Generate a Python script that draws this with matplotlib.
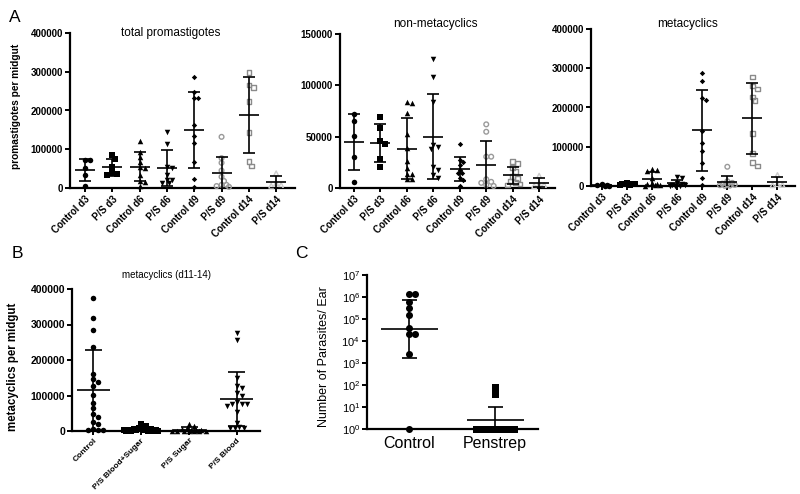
import numpy as np
import matplotlib
matplotlib.use('Agg')
import matplotlib.pyplot as plt
from matplotlib.ticker import NullLocator

plt.rcParams['font.family'] = ['Liberation Sans', 'DejaVu Sans']

# ---------------- data ----------------
days = ['Control d3', 'P/S d3', 'Control d6', 'P/S d6',
        'Control d9', 'P/S d9', 'Control d14', 'P/S d14']

total_vals = [
    [72000, 72000, 51000, 33000, 5000],
    [85000, 75000, 55000, 38000, 35000, 34000],
    [121000, 94000, 81000, 68000, 55000, 51000, 33500, 19000, 16000, 5000],
    [145000, 113000, 53000, 51000, 33500, 21000, 21000, 13000, 12000],
    [286000, 247000, 231000, 231000, 162000, 134000, 115000, 68000, 23000, 2000],
    [132000, 77000, 65000, 45000, 29000, 18000, 8000, 8000, 5000, 3000],
    [298000, 266000, 260000, 223000, 143000, 68000, 57000],
    [38000, 12000, 8000, 6000],
]
nonmeta_vals = [
    [71800, 65600, 51000, 29900, 5500],
    [69500, 58000, 46000, 43000, 28000, 20000],
    [84000, 82500, 72700, 53000, 39000, 26000, 19800, 13300, 13300, 8800, 8800],
    [126000, 108600, 84000, 42000, 40000, 38000, 20000, 18000, 12700, 10000],
    [42500, 27300, 25600, 22400, 17500, 14900, 14300, 9400, 7800, 2000],
    [62000, 54800, 30500, 30500, 8500, 6000, 5000, 3000, 2000],
    [25600, 24000, 20000, 15900, 11000, 9400, 6800, 5200, 4000, 3000],
    [12000, 4000, 3000, 2000],
]
meta_vals = [
    [4000, 3000, 2000, 1000, 500],
    [8000, 6000, 5000, 4000, 3000, 2000],
    [44000, 42000, 38000, 20000, 8000, 5000, 4000, 3000, 2000, 1000],
    [22000, 20000, 8000, 5000, 3000, 2000, 1000, 1000, 1000],
    [288000, 268000, 223000, 219000, 140000, 110000, 90000, 57800, 19600, 2500],
    [49000, 12000, 8000, 6000, 4000, 3000, 2000, 1000, 500],
    [278000, 254500, 247000, 227000, 217000, 134000, 83000, 60000, 51000],
    [28000, 5000, 3000, 2000],
]

b_groups = ['Control', 'P/S Blood+Sugar', 'P/S Sugar', 'P/S Blood']
b_vals = [
    [375500, 317000, 284500, 237500, 160600, 145600, 137000, 126800, 101400,
     78000, 64000, 48000, 40300, 24500, 19700, 4800, 4000, 3000, 2000],
    [19000, 13000, 8000, 6000, 5000, 4000, 3000, 3000, 2000, 2000, 1000,
     1000, 500, 500, 300],
    [20000, 15000, 8000, 5000, 3000, 2000, 2000, 1000, 1000, 500, 500, 300,
     200, 100],
    [275000, 256000, 148000, 126800, 120000, 106000, 98600, 82500, 76000,
     76000, 75000, 70400, 54000, 23400, 12000, 7600, 7600, 7600],
]

c_groups = ['Control', 'Penstrep']
c_vals = [
    [1.3e6, 1.3e6, 6.1e5, 3.3e5, 1.6e5, 4.0e4, 2.1e4, 2.1e4, 2.7e3, 1],
    [85, 38, 1, 1, 1, 1, 1, 1, 1],
]

# ---------------- styles ----------------
a_markers = ['o', 's', '^', 'v', 'D', 'o', 's', '^']
a_colors = ['k', 'k', 'k', 'k', 'k', '#9a9a9a', '#8a8a8a', '#cccccc']
a_filled = [True, True, True, True, True, False, False, False]
a_sizes = [5.5, 5.5, 5.5, 5.5, 3.8, 5.5, 5.5, 5.5]

W, H = 800, 494
fig = plt.figure(figsize=(W / 100, H / 100), dpi=100)

t95 = {8: 2.306, 9: 2.262, 10: 2.228}


def add_ax(l, r, ybot, ytop):
    return fig.add_axes([l / W, 1 - ybot / H, (r - l) / W, (ybot - ytop) / H])


def style_ax(ax, ysize=7, yweight='bold'):
    for s in ['top', 'right']:
        ax.spines[s].set_visible(False)
    for s in ['left', 'bottom']:
        ax.spines[s].set_linewidth(1.6)
    ax.tick_params(axis='y', length=3.5, width=1.4, labelsize=ysize, pad=1.5)
    ax.tick_params(axis='x', length=3, width=1.4, pad=1.5)
    for lab in ax.get_yticklabels():
        lab.set_fontweight(yweight)


def swarm(ypx, d, lim):
    # spread points sideways (within +/- lim px), overlap when crowded
    xs = np.zeros(len(ypx))
    placed = []
    step = 0.45 * d
    n = int(lim // step)
    cands = [0.0]
    for k in range(1, n + 1):
        cands += [k * step, -k * step]
    for i in np.argsort(-ypx):
        y = ypx[i]
        best, best_d = 0.0, -1
        for c in cands:
            md = min([np.hypot(c - px, y - py) for px, py in placed] + [1e9])
            if md >= d * 0.8:
                best = c
                break
            if md > best_d:
                best, best_d = c, md
        placed.append((best, y))
        xs[i] = best
    return xs


def draw_groups(ax, vals_list, markers, colors, filled, sizes,
                mean_w, cap_w, lim, log=False):
    pos = ax.get_position()
    x0, x1 = ax.get_xlim()
    y0, y1 = ax.get_ylim()
    px_x = pos.width * W / (x1 - x0)
    if log:
        py = pos.height * H / (np.log10(y1) - np.log10(y0))
    else:
        py = pos.height * H / (y1 - y0)
    for i, vals in enumerate(vals_list):
        v = np.array(vals, float)
        yp = (np.log10(v) if log else v) * py
        offs = swarm(yp, sizes[i], lim) / px_x
        ms = sizes[i] * 0.72
        if filled[i]:
            ax.scatter(i + offs, v, marker=markers[i], s=ms ** 2,
                       color=colors[i], linewidths=0, clip_on=False, zorder=3)
        else:
            ax.scatter(i + offs, v, marker=markers[i], s=(ms * 0.85) ** 2,
                       facecolor='none', edgecolor=colors[i], linewidths=1.0,
                       clip_on=False, zorder=3)
        if log:
            # geometric mean with 95% CI
            lv = np.log10(v)
            m = lv.mean()
            ci = t95[len(v) - 1] * lv.std(ddof=1) / np.sqrt(len(v))
            m, lo, hi = 10 ** m, 10 ** (m - ci), 10 ** (m + ci)
        else:
            # mean +/- SD
            m = v.mean()
            sd = v.std(ddof=1)
            lo, hi = m - sd, m + sd
        hw = mean_w / 2 / px_x
        cw = cap_w / 2 / px_x
        ax.hlines(m, i - hw, i + hw, color='k', lw=1.2, zorder=4)
        ax.vlines(i, lo, hi, color='k', lw=1.2, zorder=4)
        ax.hlines([lo, hi], i - cw, i + cw, color='k', lw=1.2, zorder=4)


def panel_a(ax, vals, xlim, ymax, yticks):
    ax.set_xlim(*xlim)
    ax.set_ylim(0, ymax)
    ax.set_yticks(yticks)
    ax.set_yticklabels([str(t) for t in yticks])
    ax.set_xticks(range(len(days)))
    ax.set_xticklabels(days, rotation=45, ha='right', rotation_mode='anchor',
                       fontsize=7, fontweight='bold')
    style_ax(ax)
    draw_groups(ax, vals, a_markers, a_colors, a_filled, a_sizes, 20, 12, 7.5)


ax1 = add_ax(70, 295, 188, 33)
panel_a(ax1, total_vals, (-0.55, 7.69), 400000,
        [0, 100000, 200000, 300000, 400000])
ax2 = add_ax(340, 555, 188, 34)
panel_a(ax2, nonmeta_vals, (-0.53, 7.6), 150000, [0, 50000, 100000, 150000])
ax3 = add_ax(591, 795, 186, 29)
panel_a(ax3, meta_vals, (-0.44, 7.7), 400000,
        [0, 100000, 200000, 300000, 400000])

# panel B
axb = add_ax(72, 260, 431, 289)
axb.set_xlim(-0.44, 3.48)
axb.set_ylim(0, 400000)
bt = [0, 100000, 200000, 300000, 400000]
axb.set_yticks(bt)
axb.set_yticklabels([str(t) for t in bt])
axb.set_xticks(range(len(b_groups)))
axb.set_xticklabels(b_groups, rotation=45, ha='right', rotation_mode='anchor',
                    fontsize=6, fontweight='bold')
style_ax(axb, ysize=7.5)
draw_groups(axb, b_vals, ['o', 's', '^', 'v'], ['k'] * 4, [True] * 4,
            [5.5] * 4, 33, 17, 19)

# panel C
axc = add_ax(367, 538, 429, 275)
axc.set_yscale('log')
axc.set_xlim(-0.49, 1.5)
axc.set_ylim(1, 1e7)
axc.set_yticks([10.0 ** k for k in range(8)])
axc.yaxis.set_minor_locator(NullLocator())
axc.set_xticks(range(len(c_groups)))
axc.set_xticklabels(c_groups, fontsize=11.5)
style_ax(axc, ysize=8, yweight='normal')
axc.tick_params(axis='x', length=0, pad=5)
draw_groups(axc, c_vals, ['o', 's'], ['k', 'k'], [True, True], [7, 7],
            57, 15, 28, log=True)

# titles, axis labels, panel letters
for x, y, s, fs in [(171, 33, 'total promastigotes', 8.5),
                    (435, 24, 'non-metacyclics', 8.5),
                    (688, 24, 'metacyclics', 8.5),
                    (167, 275, 'metacyclics (d11-14)', 7)]:
    fig.text(x / W, 1 - y / H, s, fontsize=fs, ha='center', va='center')

fig.text(16 / W, 1 - 106 / H, 'promastigotes per midgut', rotation=90,
         fontsize=7.3, fontweight='bold', ha='center', va='center')
fig.text(13 / W, 1 - 367 / H, 'metacyclics per midgut', rotation=90,
         fontsize=8.3, fontweight='bold', ha='center', va='center')
fig.text(324 / W, 1 - 357 / H, 'Number of Parasites/ Ear', rotation=90,
         fontsize=9, ha='center', va='center')

for x, y, s in [(15, 17, 'A'), (17, 253, 'B'), (301, 253, 'C')]:
    fig.text(x / W, 1 - y / H, s, fontsize=12.5, ha='center', va='center')

fig.savefig('out.png', dpi=100)
